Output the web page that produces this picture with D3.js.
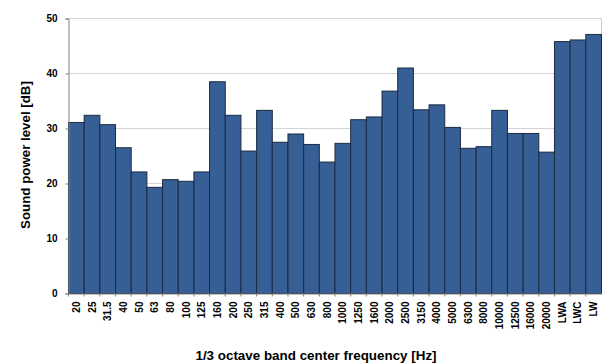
<!DOCTYPE html>
<html>
<head>
<meta charset="utf-8">
<script src="https://cdn.jsdelivr.net/npm/d3@7"></script>
<style>
  body { margin: 0; background: #fff; }
  svg { display: block; font-family: "Liberation Sans", Arial, sans-serif; }
</style>
</head>
<body>
<svg id="chart"></svg>
<script>
// 1/3 octave bands plus overall levels
const bands = ['20', '25', '31.5', '40', '50', '63', '80', '100', '125', '160', '200', '250',
  '315', '400', '500', '630', '800', '1000', '1250', '1600', '2000', '2500', '3150', '4000',
  '5000', '6300', '8000', '10000', '12500', '16000', '20000', 'LWA', 'LWC', 'LW'];
const levels = [31.1, 32.4, 30.7, 26.5, 22.1, 19.3, 20.7, 20.4, 22.1, 38.5, 32.4, 25.9,
  33.3, 27.5, 29.0, 27.1, 23.9, 27.3, 31.6, 32.1, 36.8, 41.0, 33.4, 34.3,
  30.2, 26.4, 26.7, 33.3, 29.1, 29.1, 25.7, 45.8, 46.1, 47.1];
const yTicks = [0, 10, 20, 30, 40, 50];

const width = 614;
const height = 364;
const margin = { top: 18.5, right: 12.5, bottom: 70.5, left: 68.5 };

const svg = d3.select('#chart')
  .attr('width', width)
  .attr('height', height);

const chartWidth = width - margin.left - margin.right;
const chartHeight = height - margin.top - margin.bottom;

const g = svg.append('g')
  .attr('transform', `translate(${margin.left},${margin.top})`);

const data = bands.map((b, i) => ({ band: b, value: levels[i] }));

const xScale = d3.scaleBand()
  .domain(bands)
  .range([0, chartWidth])
  .padding(0);

const yScale = d3.scaleLinear()
  .domain([0, 50])
  .range([chartHeight, 0]);

// gridlines
g.selectAll('.grid')
  .data(yTicks.slice(1))
  .enter()
  .append('line')
  .attr('class', 'grid')
  .attr('x1', 0)
  .attr('x2', chartWidth)
  .attr('y1', d => Math.round(yScale(d)))
  .attr('y2', d => Math.round(yScale(d)))
  .attr('stroke', '#d4d4d4')
  .attr('stroke-width', 1);

// right border of plot area
g.append('line')
  .attr('x1', chartWidth)
  .attr('x2', chartWidth)
  .attr('y1', 0)
  .attr('y2', chartHeight)
  .attr('stroke', '#c8c8c8');

// bars
g.selectAll('.bar')
  .data(data)
  .enter()
  .append('rect')
  .attr('class', 'bar')
  .attr('x', d => xScale(d.band))
  .attr('y', d => yScale(d.value))
  .attr('width', xScale.bandwidth())
  .attr('height', d => chartHeight - yScale(d.value))
  .attr('fill', '#365f96')
  .attr('stroke', '#1b2a40')
  .attr('stroke-width', 1);

// Y axis
const yAxis = g.append('g')
  .call(d3.axisLeft(yScale).tickValues(yTicks).tickSize(3).tickPadding(8));
yAxis.select('.domain').attr('stroke', '#808080');
yAxis.selectAll('.tick line').attr('stroke', '#808080');
yAxis.selectAll('text')
  .attr('font-size', '10px')
  .attr('font-weight', 'bold')
  .attr('fill', '#000');

// X axis: ticks at category boundaries
const xAxis = g.append('g')
  .attr('transform', `translate(0,${chartHeight})`)
  .call(d3.axisBottom(xScale).tickSize(0).tickPadding(0));
xAxis.select('.domain').attr('stroke', '#808080');
xAxis.selectAll('.tick text')
  .attr('transform', 'rotate(-90)')
  .attr('x', -8)
  .attr('y', 0)
  .attr('dy', '0.35em')
  .style('text-anchor', 'end')
  .attr('font-size', '10px')
  .attr('font-weight', 'bold')
  .attr('fill', '#000');

g.selectAll('.xtick')
  .data(bands)
  .enter()
  .append('line')
  .attr('class', 'xtick')
  .attr('x1', d => xScale(d))
  .attr('x2', d => xScale(d))
  .attr('y1', chartHeight)
  .attr('y2', chartHeight + 3)
  .attr('stroke', '#808080');

// axis titles
svg.append('text')
  .attr('transform', `translate(30,${margin.top + chartHeight / 2 - 1}) rotate(-90)`)
  .attr('text-anchor', 'middle')
  .attr('font-size', '13.3px')
  .attr('font-weight', 'bold')
  .text('Sound power level [dB]');

svg.append('text')
  .attr('x', 316)
  .attr('y', 360)
  .attr('text-anchor', 'middle')
  .attr('font-size', '13.4px')
  .attr('font-weight', 'bold')
  .text('1/3 octave band center frequency [Hz]');
</script>
</body>
</html>
